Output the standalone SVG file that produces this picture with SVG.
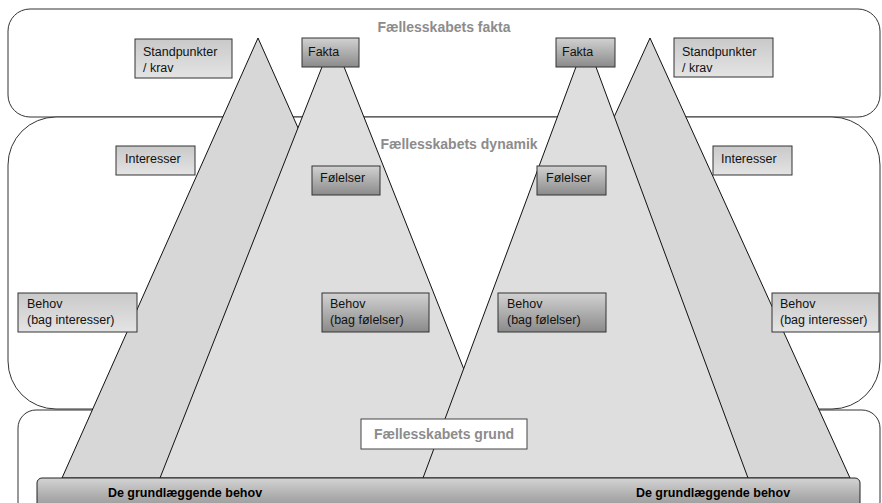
<svg xmlns="http://www.w3.org/2000/svg" width="882" height="503" viewBox="0 0 882 503">
<defs>
<linearGradient id="gLight" x1="0" y1="0" x2="0" y2="1">
<stop offset="0" stop-color="#c9c9c9"/>
<stop offset="1" stop-color="#e4e4e4"/>
</linearGradient>
<linearGradient id="gDark" x1="0" y1="0" x2="0" y2="1">
<stop offset="0" stop-color="#d2d2d2"/>
<stop offset="1" stop-color="#8a8a8a"/>
</linearGradient>
<linearGradient id="gBar" x1="0" y1="0" x2="0" y2="1">
<stop offset="0" stop-color="#d4d4d4"/>
<stop offset="0.5" stop-color="#a9a9a9"/>
<stop offset="1" stop-color="#8e8e8e"/>
</linearGradient>
</defs>
<style>
.zone{fill:#fff;stroke:#333;stroke-width:1}
.back{fill:#d7d7d7;stroke:#111;stroke-width:1}
.front{fill:#dedede;stroke:#111;stroke-width:1}
.light{fill:url(#gLight);stroke:#333;stroke-width:1}
.dark{fill:url(#gDark);stroke:#333;stroke-width:1}
.t{font-family:"Liberation Sans",Arial,sans-serif;font-size:12.5px;fill:#111}
.title{font-family:"Liberation Sans",Arial,sans-serif;font-size:14px;font-weight:bold;fill:#8c8c8c}
.bar{font-family:"Liberation Sans",Arial,sans-serif;font-size:12.5px;font-weight:bold;fill:#000}
</style>
<g id="zones">
<rect class="zone" x="8" y="9" width="872" height="108" rx="22"/>
<rect class="zone" x="8" y="117" width="872" height="292" rx="48"/>
<rect class="zone" x="18" y="410" width="862" height="110" rx="18"/>
</g>
<g id="titles">
<text class="title" x="444" y="32" text-anchor="middle">Fællesskabets fakta</text>
<text class="title" x="459" y="149" text-anchor="middle">Fællesskabets dynamik</text>
</g>
<g id="pyramids">
<polygon id="back-left" class="back" points="258,38 62,478 454,478"/>
<polygon id="back-right" class="back" points="650,38 450,478 850,478"/>
<polygon id="front-left" class="front" points="333,39 160,478 507,478"/>
<polygon id="front-right" class="front" points="586,40 423,478 748,478"/>
</g>
<g id="connectors"></g>
<g id="standpunkter-left">
<rect class="light" x="135" y="39" width="97" height="39"/>
<text class="t" x="143" y="56">Standpunkter</text>
<text class="t" x="143" y="72">/ krav</text>
</g>
<g id="fakta-left">
<rect class="dark" x="302" y="38" width="57" height="29"/>
<text class="t" x="308" y="56">Fakta</text>
</g>
<g id="fakta-right">
<rect class="dark" x="556" y="38" width="59" height="29"/>
<text class="t" x="562" y="56">Fakta</text>
</g>
<g id="standpunkter-right">
<rect class="light" x="674" y="38" width="99" height="39"/>
<text class="t" x="682" y="56">Standpunkter</text>
<text class="t" x="682" y="72">/ krav</text>
</g>
<g id="interesser-left">
<rect class="light" x="116" y="146" width="79" height="29"/>
<text class="t" x="125" y="163">Interesser</text>
</g>
<g id="interesser-right">
<rect class="light" x="713" y="146" width="79" height="29"/>
<text class="t" x="721" y="163">Interesser</text>
</g>
<g id="foelelser-left">
<rect class="dark" x="312" y="166" width="68" height="29"/>
<text class="t" x="320" y="182">Følelser</text>
</g>
<g id="foelelser-right">
<rect class="dark" x="537" y="166" width="69" height="29"/>
<text class="t" x="546" y="182">Følelser</text>
</g>
<g id="behov-interesser-left">
<rect class="light" x="18" y="293" width="119" height="39"/>
<text class="t" x="27" y="308">Behov</text>
<text class="t" x="27" y="324">(bag interesser)</text>
</g>
<g id="behov-foelelser-left">
<rect class="dark" x="322" y="293" width="107" height="39"/>
<text class="t" x="330" y="308">Behov</text>
<text class="t" x="330" y="324">(bag følelser)</text>
</g>
<g id="behov-foelelser-right">
<rect class="dark" x="498" y="293" width="108" height="39"/>
<text class="t" x="507" y="308">Behov</text>
<text class="t" x="507" y="324">(bag følelser)</text>
</g>
<g id="behov-interesser-right">
<rect class="light" x="772" y="293" width="107" height="39"/>
<text class="t" x="780" y="308">Behov</text>
<text class="t" x="780" y="324">(bag interesser)</text>
</g>
<g id="grund">
<rect x="361" y="419" width="166" height="30" fill="#fff" stroke="#444" stroke-width="1"/>
<text class="title" x="444" y="439" text-anchor="middle">Fællesskabets grund</text>
</g>
<g id="grundlaeggende-behov">
<rect x="37" y="478" width="823" height="40" rx="5" fill="url(#gBar)" stroke="#222" stroke-width="1"/>
<text class="bar" x="185" y="497" text-anchor="middle">De grundlæggende behov</text>
<text class="bar" x="713" y="497" text-anchor="middle">De grundlæggende behov</text>
</g>
</svg>
